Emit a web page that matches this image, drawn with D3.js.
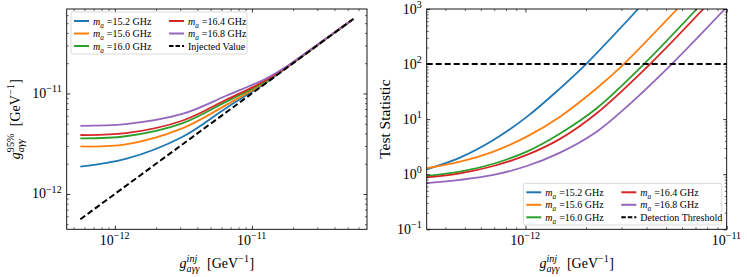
<!DOCTYPE html>
<html>
<head>
<meta charset="utf-8">
<script src="https://cdn.jsdelivr.net/npm/d3@7"></script>
<style>
  html, body { margin: 0; padding: 0; background: #fff; }
  svg { font-family: "Liberation Serif", "DejaVu Serif", serif; }
</style>
</head>
<body>
<div id="chart"></div>
<script>
var svgwidth = 747;
var svgheight = 277;

// ---- data ----
var massLabels = ["15.2", "15.6", "16.0", "16.4", "16.8"];
var colors = ["#1f77b4", "#ff7f0e", "#2ca02c", "#d62728", "#9467bd"];

// left panel: 95% limit vs injected coupling
var gInj = [5.6e-13, 1.2e-12, 3.1e-12, 6.5e-12, 1.26e-11, 1.78e-11, 3.16e-11, 5.5e-11];
var limit152 = [1.87e-12, 2.23e-12, 3.69e-12, 7.18e-12, 1.27e-11, 1.79e-11, 3.17e-11, 5.5e-11];
var limit156 = [2.97e-12, 3.11e-12, 4.49e-12, 7.69e-12, 1.30e-11, 1.80e-11, 3.18e-11, 5.5e-11];
var limit160 = [3.58e-12, 3.75e-12, 5.04e-12, 8.30e-12, 1.32e-11, 1.81e-11, 3.19e-11, 5.5e-11];
var limit164 = [3.86e-12, 4.02e-12, 5.35e-12, 8.65e-12, 1.35e-11, 1.82e-11, 3.20e-11, 5.5e-11];
var limit168 = [4.76e-12, 4.95e-12, 6.25e-12, 9.48e-12, 1.40e-11, 1.84e-11, 3.21e-11, 5.5e-11];
var injected = [5.6e-13, 5.5e-11];

// right panel: test statistic vs injected coupling
var ts152X = [3.23e-13, 4.73e-13, 6.93e-13, 1.015e-12, 1.486e-12, 2.0e-12, 3.63e-12];
var ts152 = [1.23, 2.0, 4.17, 11.0, 36.3, 100, 1000];
var ts156X = [3.23e-13, 4.73e-13, 6.93e-13, 1.015e-12, 1.486e-12, 2.26e-12, 3.08e-12, 5.68e-12];
var ts156 = [1.29, 1.69, 2.57, 4.82, 11.1, 36.3, 100, 1000];
var ts160X = [3.23e-13, 4.73e-13, 6.93e-13, 1.015e-12, 1.486e-12, 2.26e-12, 3.88e-12, 7.1e-12];
var ts160 = [0.93, 1.11, 1.55, 2.57, 5.5, 15.8, 100, 1000];
var ts164X = [3.23e-13, 4.73e-13, 6.93e-13, 1.015e-12, 1.486e-12, 2.26e-12, 4.16e-12, 7.65e-12];
var ts164 = [0.88, 1.04, 1.41, 2.24, 4.38, 12.8, 100, 1000];
var ts168X = [3.23e-13, 4.73e-13, 6.93e-13, 1.015e-12, 1.486e-12, 2.26e-12, 3.06e-12, 5.33e-12, 9.8e-12];
var ts168 = [0.69, 0.79, 0.97, 1.41, 2.47, 5.93, 14.7, 100, 1000];
var threshold = 100;

var limits = [limit152, limit156, limit160, limit164, limit168];
var tsX = [ts152X, ts156X, ts160X, ts164X, ts168X];
var tsY = [ts152, ts156, ts160, ts164, ts168];

var NB = "\u00a0";

var svg = d3.select("#chart")
            .append("svg")
            .attr("width", svgwidth)
            .attr("height", svgheight);

// draw text with super/subscripts, pieces laid out left to right
function rich(parent, pieces, size, anchor) {
    var g = parent.append("g");
    var x = 0;
    pieces.forEach(function(p) {
        if (p.t !== undefined) {
            var el = g.append("text").attr("x", x).attr("y", 0)
                .style("font-size", size + "px")
                .style("font-style", p.it ? "italic" : "normal")
                .text(p.t);
            x += el.node().getComputedTextLength();
        } else {
            var w = 0;
            if (p.sup) {
                var s = g.append("text").attr("x", x).attr("y", -0.42 * size)
                    .style("font-size", (0.72 * size) + "px")
                    .style("font-style", p.supIt ? "italic" : "normal")
                    .text(p.sup);
                w = Math.max(w, s.node().getComputedTextLength());
            }
            if (p.sub) {
                var b = g.append("text").attr("x", x).attr("y", 0.3 * size)
                    .style("font-size", (0.72 * size) + "px")
                    .style("font-style", p.subIt ? "italic" : "normal")
                    .text(p.sub);
                w = Math.max(w, b.node().getComputedTextLength());
            }
            x += w + 0.5;
        }
    });
    var shift = anchor === "middle" ? -x / 2 : (anchor === "end" ? -x : 0);
    g.selectAll("text").attr("x", function() { return +this.getAttribute("x") + shift; });
    return g;
}

function powLabel(v) {
    var e = Math.round(Math.log10(v));
    return [{t: "10"}, {sup: (e < 0 ? "\u2212" + (-e) : "" + e)}];
}

function isMajor(v) {
    var l = Math.log10(v);
    return Math.abs(l - Math.round(l)) < 1e-6;
}

// ticks on all four sides, pointing in
function frame(g, x, y, w, h) {
    var xt = x.ticks(), yt = y.ticks();
    var xmaj = xt.filter(isMajor), xmin = xt.filter(function(d) { return !isMajor(d); });
    var ymaj = yt.filter(isMajor), ymin = yt.filter(function(d) { return !isMajor(d); });
    var sets = [
        [d3.axisBottom(x), "translate(0," + h + ")", xmaj, xmin],
        [d3.axisTop(x), "translate(0,0)", xmaj, xmin],
        [d3.axisLeft(y), "translate(0,0)", ymaj, ymin],
        [d3.axisRight(y), "translate(" + w + ",0)", ymaj, ymin]
    ];
    sets.forEach(function(s) {
        g.append("g").attr("transform", s[1])
            .call(s[0].tickValues(s[2]).tickSize(-3.5).tickSizeOuter(0).tickFormat(""))
            .call(function(a) { a.select(".domain").remove(); a.selectAll("line").attr("stroke-width", 0.8); });
        g.append("g").attr("transform", s[1])
            .call(s[0].tickValues(s[3]).tickSize(-2).tickSizeOuter(0).tickFormat(""))
            .call(function(a) { a.select(".domain").remove(); a.selectAll("line").attr("stroke-width", 0.6); });
    });
    g.append("rect").attr("width", w).attr("height", h)
        .attr("fill", "none").attr("stroke", "#000").attr("stroke-width", 0.9);

    xmaj.forEach(function(v) {
        rich(g, powLabel(v), 14, "middle").attr("transform", "translate(" + x(v) + "," + (h + 15.5) + ")");
    });
    ymaj.forEach(function(v) {
        rich(g, powLabel(v), 14, "end").attr("transform", "translate(-4.5," + (y(v) + 4.5) + ")");
    });
}

function legend(g, x0, y0, w, h, col2, items) {
    g.append("rect").attr("x", x0).attr("y", y0).attr("width", w).attr("height", h)
        .attr("rx", 2).attr("fill", "#fff").attr("fill-opacity", 0.85)
        .attr("stroke", "#d0d0d0").attr("stroke-width", 0.8);
    items.forEach(function(it, i) {
        var cx = x0 + 3 + (i < 3 ? 0 : col2);
        var cy = y0 + 9 + (i % 3) * 12.5;
        g.append("line").attr("x1", cx).attr("x2", cx + 15).attr("y1", cy).attr("y2", cy)
            .attr("stroke", it.color).attr("stroke-width", 2)
            .attr("stroke-dasharray", it.dash ? "4.5,2" : null);
        rich(g, it.label, 10, "start").attr("transform", "translate(" + (cx + 19) + "," + (cy + 3.5) + ")");
    });
}

var massItems = massLabels.map(function(m, i) {
    return { color: colors[i], label: [{t: "m", it: true}, {sub: "a", subIt: true}, {t: NB + "=" + m + NB + "GHz"}] };
});

var xTitle = [{t: "g", it: true}, {sup: "inj", supIt: true, sub: "a\u03b3\u03b3", subIt: true},
              {t: NB + NB + "[GeV"}, {sup: "\u22121"}, {t: "]"}];

// ================= left panel =================
var L = { x: 66.7, y: 9, w: 300.3, h: 220.3 };
var gl = svg.append("g").attr("transform", "translate(" + L.x + "," + L.y + ")");

var lx0 = Math.log10(d3.min(injected)), lx1 = Math.log10(d3.max(injected));
var pad = (lx1 - lx0) * 0.05;
var xL = d3.scaleLog().domain([Math.pow(10, lx0 - pad), Math.pow(10, lx1 + pad)]).range([0, L.w]);
var yL = d3.scaleLog().domain([Math.pow(10, lx0 - pad), Math.pow(10, lx1 + pad)]).range([L.h, 0]);

svg.append("clipPath").attr("id", "clipL").append("rect").attr("width", L.w).attr("height", L.h);
var plotL = gl.append("g").attr("clip-path", "url(#clipL)");

var lineL = d3.line().x(function(d) { return xL(d[0]); }).y(function(d) { return yL(d[1]); })
    .curve(d3.curveCatmullRom.alpha(0.5));

limits.forEach(function(arr, i) {
    plotL.append("path").datum(d3.zip(gInj, arr)).attr("d", lineL)
        .attr("fill", "none").attr("stroke", colors[i]).attr("stroke-width", 1.8);
});
plotL.append("path").datum(d3.zip(injected, injected)).attr("d", lineL)
    .attr("fill", "none").attr("stroke", "#000").attr("stroke-width", 2)
    .attr("stroke-dasharray", "6,3");

frame(gl, xL, yL, L.w, L.h);
legend(gl, 4.3, 3, 176, 42, 95,
    massItems.concat([{ color: "#000", dash: true, label: [{t: "Injected Value"}] }]));

rich(svg, xTitle, 14, "middle")
    .attr("transform", "translate(" + (L.x + L.w / 2) + ",268)");
rich(svg, [{t: "g", it: true}, {sup: "95%", sub: "a\u03b3\u03b3", subIt: true},
           {t: NB + NB + "[GeV"}, {sup: "\u22121"}, {t: "]"}], 14, "middle")
    .attr("transform", "translate(20," + (L.y + L.h / 2) + ") rotate(-90)");

// ================= right panel =================
var R = { x: 426.7, y: 9, w: 300, h: 220.3 };
var gr = svg.append("g").attr("transform", "translate(" + R.x + "," + R.y + ")");

var xR = d3.scaleLog().domain([d3.min(ts152X), 1e-11]).range([0, R.w]);
var yR = d3.scaleLog().domain([0.1, 1000]).range([R.h, 0]);

svg.append("clipPath").attr("id", "clipR").append("rect").attr("width", R.w).attr("height", R.h);
var plotR = gr.append("g").attr("clip-path", "url(#clipR)");

var lineR = d3.line().x(function(d) { return xR(d[0]); }).y(function(d) { return yR(d[1]); })
    .curve(d3.curveCatmullRom.alpha(0.5));

tsY.forEach(function(arr, i) {
    plotR.append("path").datum(d3.zip(tsX[i], arr)).attr("d", lineR)
        .attr("fill", "none").attr("stroke", colors[i]).attr("stroke-width", 1.8);
});
plotR.append("line").attr("x1", 0).attr("x2", R.w)
    .attr("y1", yR(threshold)).attr("y2", yR(threshold))
    .attr("stroke", "#000").attr("stroke-width", 2).attr("stroke-dasharray", "6,3");

frame(gr, xR, yR, R.w, R.h);
legend(gr, 96.6, 174.3, 198.4, 41.7, 95,
    massItems.concat([{ color: "#000", dash: true, label: [{t: "Detection" + NB + "Threshold"}] }]));

rich(svg, xTitle, 14, "middle")
    .attr("transform", "translate(" + (R.x + R.w / 2) + ",268)");
rich(svg, [{t: "Test" + NB + "Statistic"}], 15.5, "middle")
    .attr("transform", "translate(390," + (R.y + R.h / 2) + ") rotate(-90)");
</script>
</body>
</html>
